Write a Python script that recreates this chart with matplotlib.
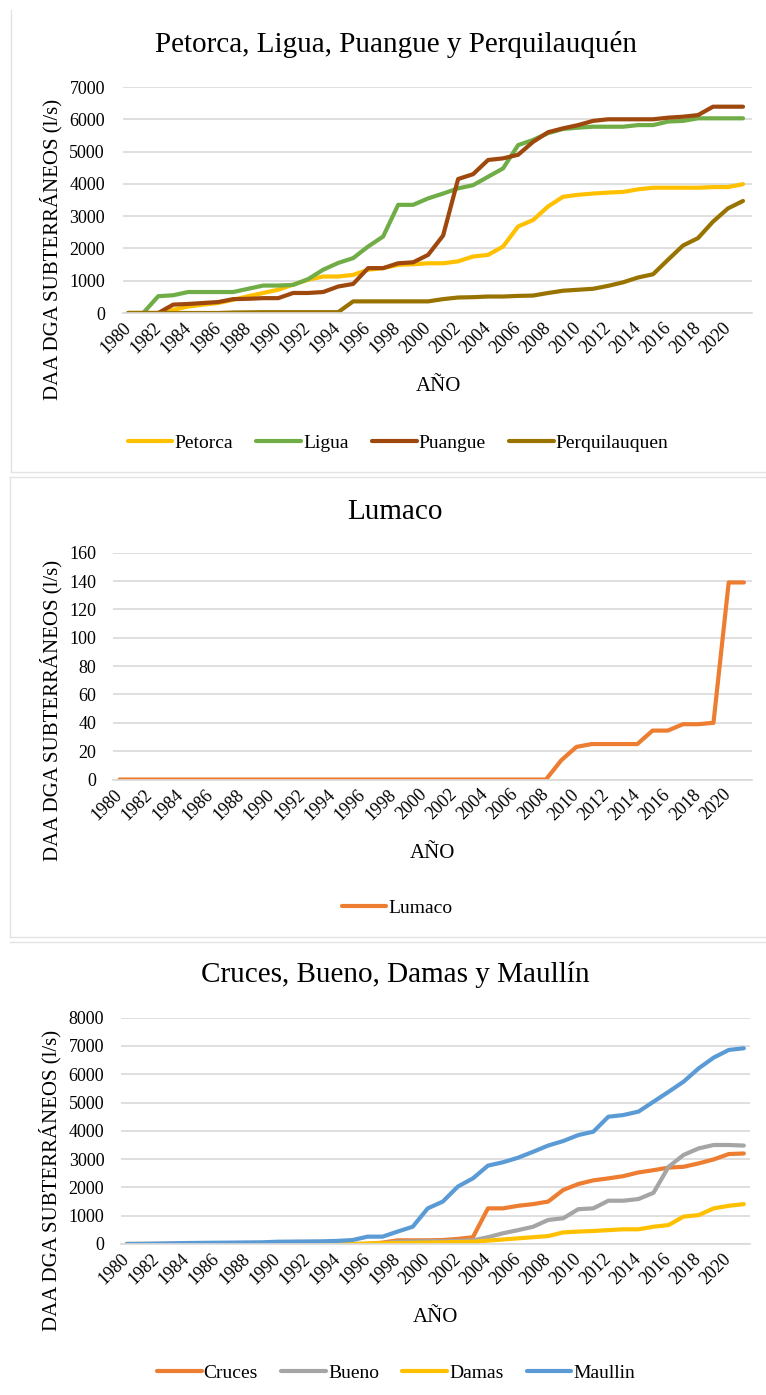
import matplotlib
matplotlib.use("Agg")
import matplotlib.pyplot as plt
from matplotlib.lines import Line2D

plt.rcParams['font.family'] = ['Liberation Serif', 'DejaVu Serif']

# Años (1980-2021)
years = list(range(1980, 2022))
tick_years = list(range(1980, 2021, 2))

# Panel 1: Petorca, Ligua, Puangue y Perquilauquén (l/s)
petorca = [0, 0, 0, 100, 200, 260, 310, 410, 520, 620,
           720, 880, 1030, 1130, 1130, 1180, 1340, 1390, 1490, 1510,
           1540, 1540, 1600, 1750, 1800, 2060, 2680, 2880, 3300, 3600,
           3660, 3700, 3730, 3750, 3830, 3880, 3880, 3880, 3880, 3900,
           3900, 3990]
ligua = [0, 0, 520, 550, 650, 650, 650, 650, 750, 850,
         850, 870, 1050, 1340, 1550, 1700, 2060, 2370, 3350, 3350,
         3550, 3700, 3860, 3960, 4220, 4480, 5200, 5360, 5570, 5700,
         5740, 5770, 5770, 5770, 5820, 5820, 5930, 5950, 6030, 6030,
         6030, 6030]
puangue = [0, 0, 0, 260, 280, 310, 340, 430, 440, 460,
           460, 620, 620, 650, 820, 900, 1390, 1390, 1540, 1570,
           1800, 2400, 4150, 4300, 4740, 4790, 4900, 5300, 5600, 5720,
           5820, 5950, 6000, 6000, 6000, 6000, 6050, 6080, 6130, 6390,
           6390, 6390]
perquilauquen = [0, 0, 0, 0, 0, 0, 0, 15, 20, 25,
                 25, 25, 25, 25, 25, 360, 360, 360, 360, 360,
                 360, 430, 480, 490, 510, 510, 530, 540, 620, 690,
                 720, 750, 840, 950, 1100, 1200, 1650, 2090, 2320, 2830,
                 3240, 3470]

# Panel 2: Lumaco
lumaco = [0] * 29 + [13.5, 23, 25, 25, 25, 25, 34.5, 34.5, 39, 39, 40, 139, 139]

# Panel 3: Cruces, Bueno, Damas y Maullín
cruces = [0] * 17 + [50, 130, 130,
                     130, 140, 180, 240, 1260, 1260, 1350, 1410, 1500, 1910,
                     2120, 2250, 2320, 2400, 2530, 2610, 2700, 2730, 2850, 2990,
                     3180, 3200]
bueno = [0] * 17 + [30, 80, 90,
                    100, 100, 110, 130, 240, 380, 490, 610, 850, 910,
                    1230, 1260, 1530, 1530, 1590, 1810, 2730, 3150, 3380, 3500,
                    3500, 3480]
damas = [0] * 16 + [20, 30, 35, 40,
                    50, 60, 70, 80, 120, 160, 200, 240, 280, 410,
                    440, 460, 490, 520, 520, 610, 670, 970, 1020, 1260,
                    1350, 1410]
maullin = [0, 5, 15, 25, 35, 40, 45, 50, 55, 60,
           80, 85, 90, 95, 110, 140, 260, 260, 440, 610,
           1260, 1500, 2030, 2320, 2770, 2890, 3050, 3260, 3480, 3640,
           3850, 3970, 4500, 4560, 4680, 5030, 5380, 5740, 6210, 6590,
           6860, 6920]

W, H = 766, 1395
GRID = '#d9d9d9'

fig = plt.figure(figsize=(W / 100, H / 100), dpi=100)


def fx(px):
    return px / W


def fy(py):
    return 1 - py / H


def panel(left, right, top, bottom, xlim, ylim, yticks, series,
          title, title_xy, ylabel_xy, xlabel_xy, legend_xy, ypad):
    ax = fig.add_axes([fx(left), fy(bottom), fx(right - left), (bottom - top) / H])
    for name, vals, color in series:
        ax.plot(years, vals, color=color, lw=3, label=name, solid_capstyle='round')
    ax.set_xlim(*xlim)
    ax.set_ylim(*ylim)
    ax.set_yticks(yticks)
    ax.set_xticks(tick_years)
    ax.set_xticklabels([str(y) for y in tick_years], rotation=45, ha='right',
                       va='center', rotation_mode='anchor')
    ax.tick_params(axis='both', length=0, labelsize=13)
    ax.tick_params(axis='y', pad=ypad)
    ax.tick_params(axis='x', pad=9)
    ax.grid(axis='y', color=GRID, lw=1.2)
    ax.set_axisbelow(True)
    for s in ['top', 'right', 'left']:
        ax.spines[s].set_visible(False)
    ax.spines['bottom'].set_color(GRID)
    ax.spines['bottom'].set_linewidth(1.2)

    fig.text(fx(title_xy[0]), fy(title_xy[1]), title, ha='center', va='center', fontsize=21)
    fig.text(fx(ylabel_xy[0]), fy(ylabel_xy[1]), 'DAA DGA SUBTERRÁNEOS (l/s)',
             rotation=90, ha='center', va='center', fontsize=15)
    fig.text(fx(xlabel_xy[0]), fy(xlabel_xy[1]), 'AÑO', ha='center', va='center', fontsize=15)
    handles, labels = ax.get_legend_handles_labels()
    fig.legend(handles, labels, loc='center', bbox_to_anchor=(fx(legend_xy[0]), fy(legend_xy[1])),
               ncol=len(series), frameon=False, fontsize=14, handlelength=2.3,
               handletextpad=0.1, columnspacing=1.2, borderpad=0)
    return ax


panel(123, 752, 87, 313, (1979.65, 2021.6), (0, 7000), range(0, 7001, 1000),
      [('Petorca', petorca, '#FFC000'), ('Ligua', ligua, '#70AD47'),
       ('Puangue', puangue, '#9E480E'), ('Perquilauquen', perquilauquen, '#997300')],
      'Petorca, Ligua, Puangue y Perquilauquén', (396, 45), (51, 249), (438, 387), (398, 443), 13)

panel(113, 752, 552.7, 779.5, (1979.57, 2021.53), (0, 160), range(0, 161, 20),
      [('Lumaco', lumaco, '#ED7D31')],
      'Lumaco', (395, 512), (51, 710), (432, 853), (397, 908), 12)

panel(121, 750, 1017.7, 1244, (1979.62, 2021.41), (0, 8000), range(0, 8001, 1000),
      [('Cruces', cruces, '#ED7D31'), ('Bueno', bueno, '#A5A5A5'),
       ('Damas', damas, '#FFC000'), ('Maullin', maullin, '#5B9BD5')],
      'Cruces, Bueno, Damas y Maullín', (395, 975), (50, 1180), (435, 1317), (396, 1373), 12)

# Bordes de los paneles
borders = [((11, 11), (10, 472)), ((11, W), (472, 472)),
           ((10, W), (477, 477)), ((10, 10), (477, 937)), ((10, W), (937, 937)),
           ((10, W), (942, 942))]
for xs, ys in borders:
    fig.add_artist(Line2D([fx(x) for x in xs], [fy(y) for y in ys], color='#e3e3e3', lw=1))

fig.savefig('out.png', dpi=100, facecolor='white')
